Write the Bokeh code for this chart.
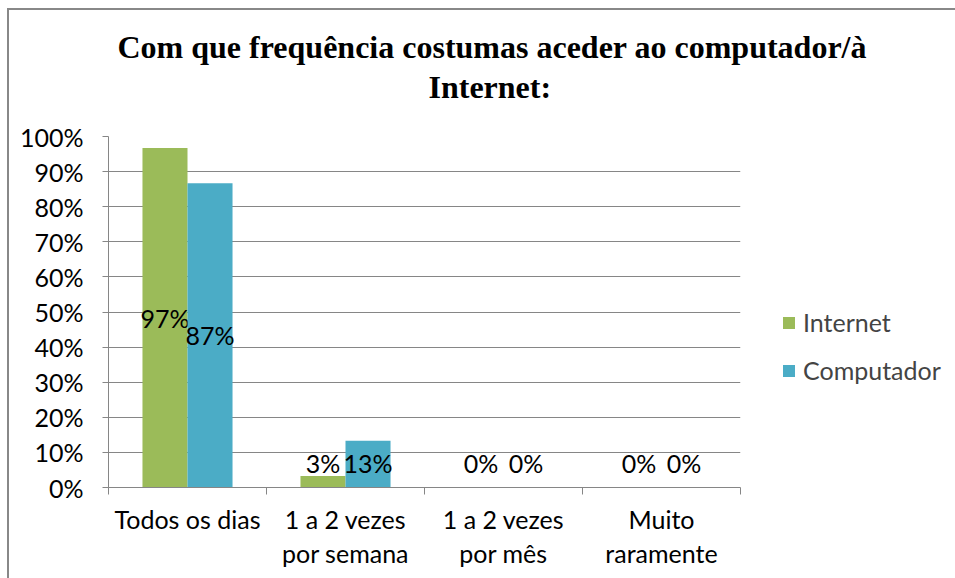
from bokeh.plotting import figure
from bokeh.models import (ColumnDataSource, FixedTicker, NumeralTickFormatter,
                          Legend, LegendItem, Title, Range1d)
from bokeh.core.properties import value
from bokeh.embed import file_html
from bokeh.resources import INLINE

# ---- data ----
categories = ["Todos os dias", "1 a 2 vezes por semana", "1 a 2 vezes por mês", "Muito raramente"]
tick_labels = ["Todos os dias", "1 a 2 vezes\npor semana", "1 a 2 vezes\npor mês", "Muito\nraramente"]
internet = [0.967, 0.033, 0.0, 0.0]
computador = [0.867, 0.133, 0.0, 0.0]
series_names = ["Internet", "Computador"]
colors = ["#9BBB59", "#4BACC6"]
title_lines = ["Com que frequência costumas aceder ao computador/à", "Internet:"]

FONT = "Lato"
FS = "25px"
GRAY = "#868686"

n = len(categories)
centers = [i + 0.5 for i in range(n)]
bw = 0.285

p = figure(frame_width=632, frame_height=351,
           min_border_left=99, min_border_right=215,
           min_border_top=126, min_border_bottom=91,
           x_range=Range1d(0, n), y_range=Range1d(0, 1),
           output_backend="svg", toolbar_location=None,
           background_fill_color="white", border_fill_color="white")
p.outline_line_color = None

renderers = []
for k, (vals, off) in enumerate([(internet, -bw / 2), (computador, bw / 2)]):
    src = ColumnDataSource(dict(
        x=[c + off for c in centers],
        top=vals,
        ly=[max(v / 2, 0.071) for v in vals],
        lab=[f"{round(v * 100):.0f}%" for v in vals],
    ))
    r = p.vbar(x="x", top="top", width=bw, bottom=0, source=src,
               fill_color=colors[k], line_color=None)
    renderers.append(r)
    p.text(x="x", y="ly", text="lab", source=src, text_align="center",
           text_baseline="middle", text_font=value(FONT),
           text_font_size=FS, text_color="black")

# axes
p.xaxis.ticker = FixedTicker(ticks=centers, minor_ticks=list(range(n + 1)))
p.xaxis.major_label_overrides = {c: t for c, t in zip(centers, tick_labels)}
p.xaxis.major_tick_out = 0
p.xaxis.major_tick_in = 0
p.xaxis.minor_tick_out = 7
p.xaxis.minor_tick_in = 0
p.xaxis.minor_tick_line_color = GRAY
p.xaxis.axis_line_color = GRAY
p.xaxis.major_label_text_font = FONT
p.xaxis.major_label_text_font_size = FS
p.xaxis.major_label_text_color = "black"
p.xaxis.major_label_standoff = 9
p.xaxis.major_label_text_line_height = 1.15

p.yaxis.ticker = FixedTicker(ticks=[i / 10 for i in range(11)])
p.yaxis.formatter = NumeralTickFormatter(format="0%")
p.yaxis.major_tick_out = 6
p.yaxis.major_tick_in = 0
p.yaxis.minor_tick_line_color = None
p.yaxis.major_tick_line_color = GRAY
p.yaxis.axis_line_color = GRAY
p.yaxis.major_label_text_font = FONT
p.yaxis.major_label_text_font_size = FS
p.yaxis.major_label_text_color = "black"
p.yaxis.major_label_standoff = 19

p.xgrid.grid_line_color = None
p.ygrid.grid_line_color = GRAY
p.ygrid.grid_line_width = 1

# legend
legend = Legend(items=[LegendItem(label=nm, renderers=[r]) for nm, r in zip(series_names, renderers)],
                location=(41, 102), glyph_width=15, glyph_height=15, label_standoff=7,
                spacing=18, padding=10, margin=0, border_line_color=None,
                background_fill_alpha=0,
                label_text_font=FONT, label_text_font_size=FS)
p.add_layout(legend, "right")

# title: two stacked Title objects (nearest the frame added first)
for line, off, so in zip(reversed(title_lines), [320, 9], [63, -58]):
    p.add_layout(Title(text=line, align="left", offset=off, standoff=so,
                       text_font="Liberation Serif", text_font_style="bold",
                       text_font_size="32px", text_color="black"), "above")

p.styles = {"border-top": "2px solid #888888", "border-left": "2px solid #888888",
            "margin-left": "7px", "margin-top": "8px"}

open("out.html", "w").write(file_html(p, INLINE))
